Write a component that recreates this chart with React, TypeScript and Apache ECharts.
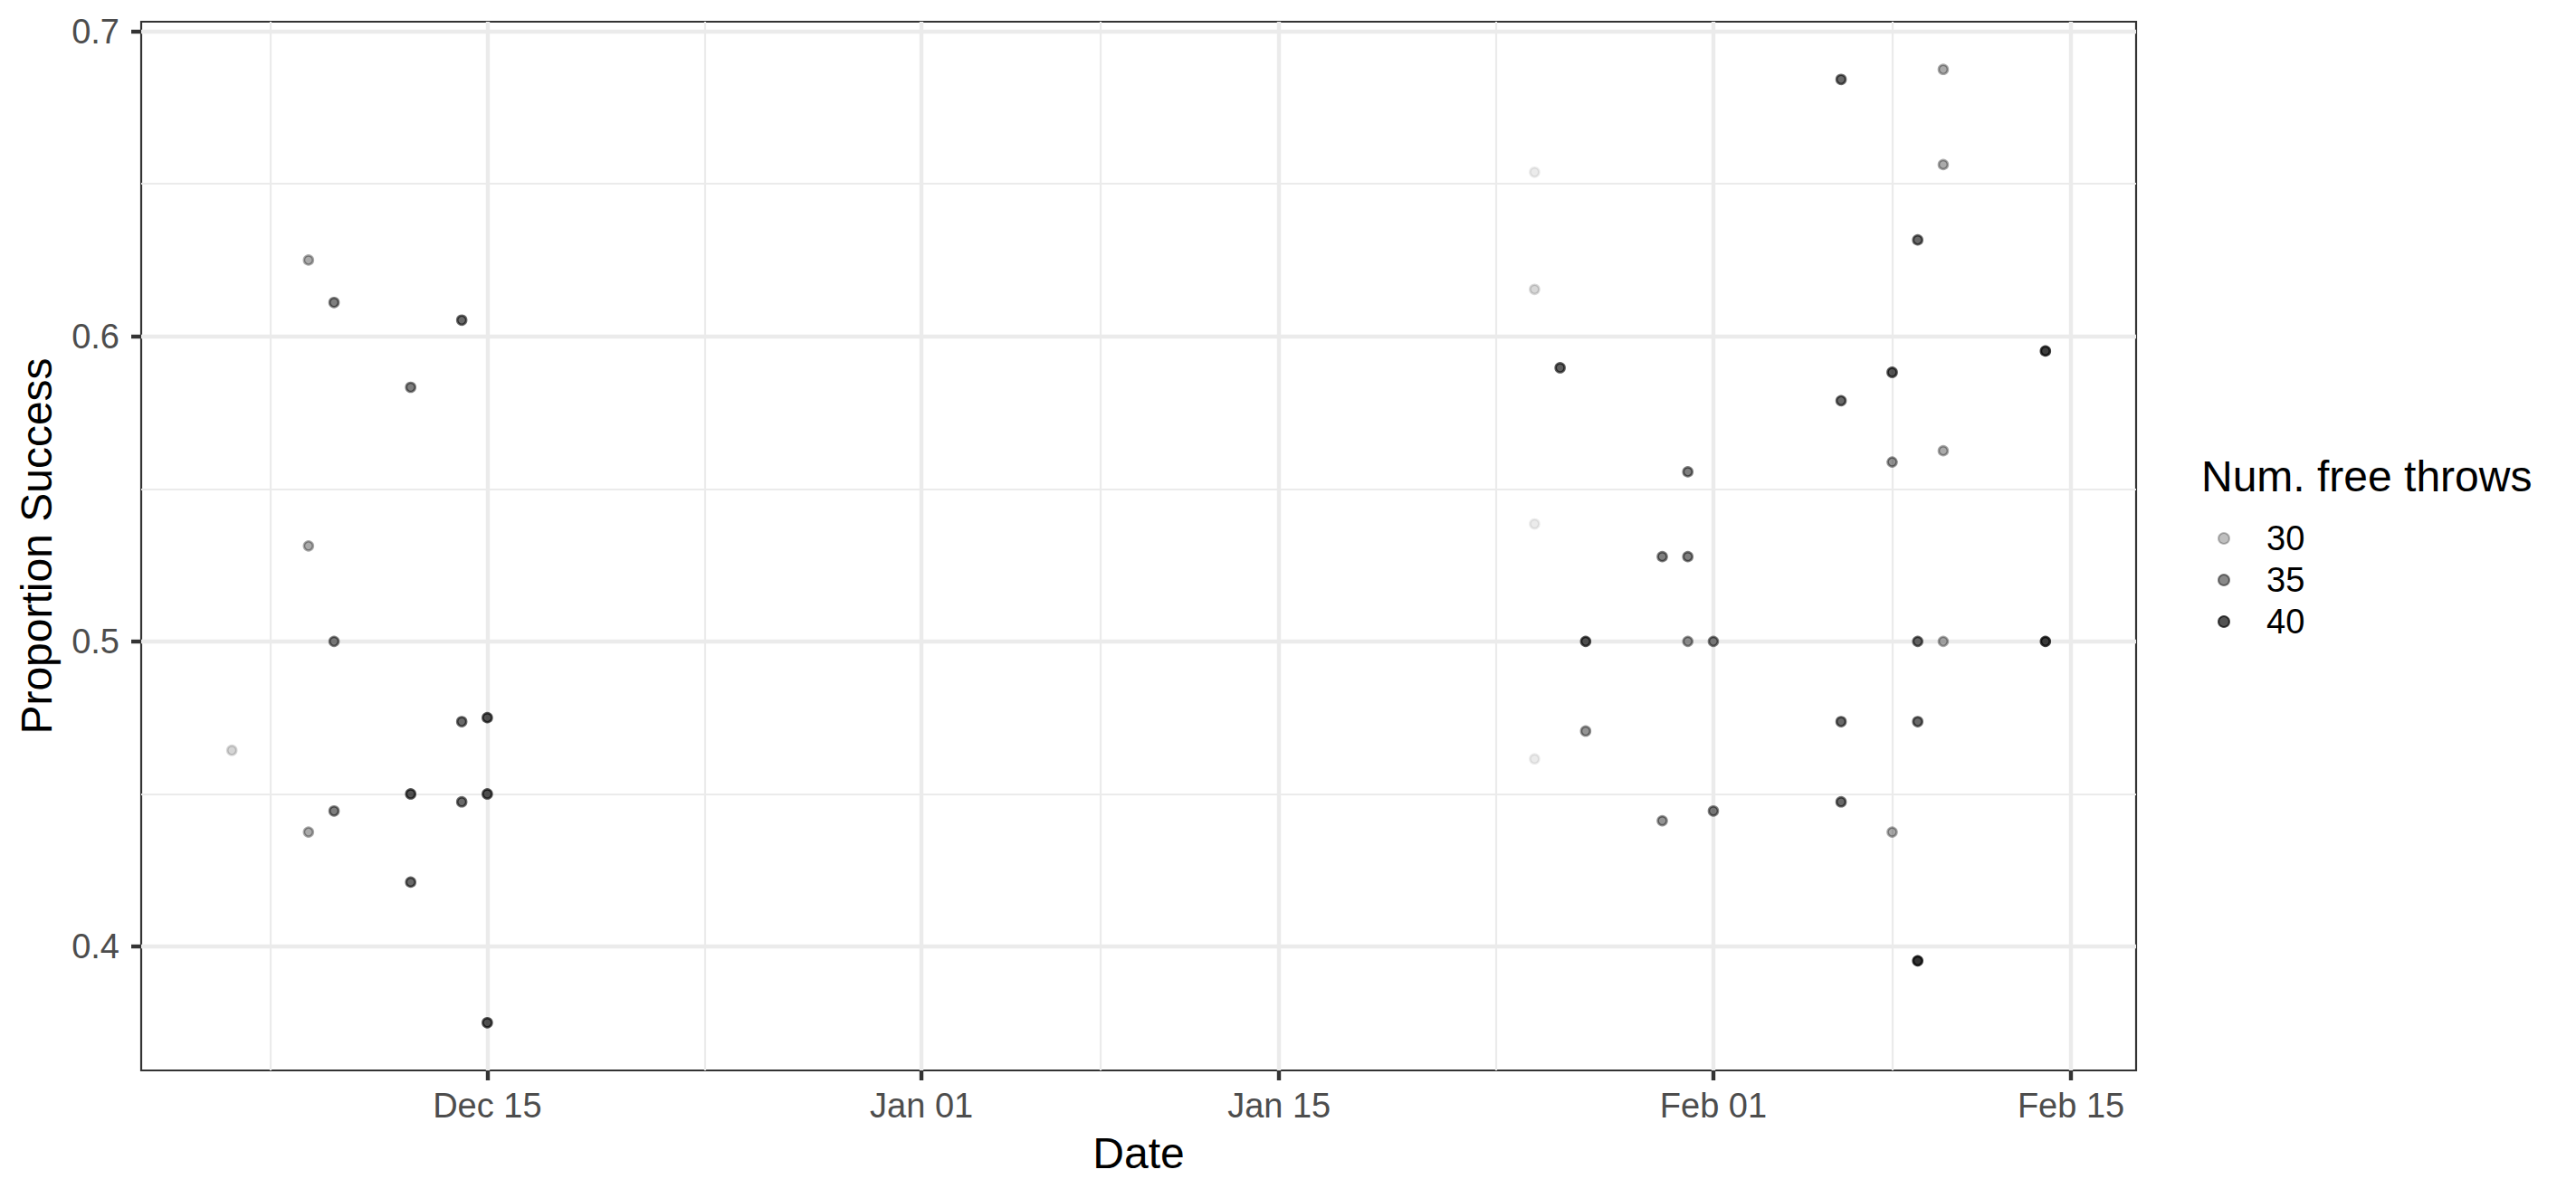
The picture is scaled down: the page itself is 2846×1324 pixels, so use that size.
import { useEffect, useRef } from "react";
import * as echarts from "echarts";

// ---- data ----
const dates = [
  "2017-12-05",
  "2017-12-08", "2017-12-08", "2017-12-08",
  "2017-12-09", "2017-12-09", "2017-12-09",
  "2017-12-12", "2017-12-12", "2017-12-12",
  "2017-12-14", "2017-12-14", "2017-12-14",
  "2017-12-15", "2017-12-15", "2017-12-15",
  "2018-01-25", "2018-01-25", "2018-01-25", "2018-01-25", "2018-01-25",
  "2018-01-26",
  "2018-01-27", "2018-01-27",
  "2018-01-30", "2018-01-30",
  "2018-01-31", "2018-01-31", "2018-01-31",
  "2018-02-01", "2018-02-01",
  "2018-02-06", "2018-02-06", "2018-02-06", "2018-02-06",
  "2018-02-08", "2018-02-08", "2018-02-08", "2018-02-08",
  "2018-02-09", "2018-02-09", "2018-02-09", "2018-02-09",
  "2018-02-10", "2018-02-10", "2018-02-10", "2018-02-10",
  "2018-02-14", "2018-02-14",
];
const proportion = [
  0.4643,
  0.625, 0.5313, 0.4375,
  0.6111, 0.5, 0.4444,
  0.5833, 0.45, 0.4211,
  0.6053, 0.4737, 0.4474,
  0.475, 0.45, 0.375,
  0.6538, 0.6154, 0.6154, 0.5385, 0.4615,
  0.5897,
  0.5, 0.4706,
  0.5278, 0.4412,
  0.5556, 0.5278, 0.5,
  0.5, 0.4444,
  0.6842, 0.5789, 0.4737, 0.4474,
  0.5882, 0.5882, 0.5588, 0.4375,
  0.6316, 0.5, 0.4737, 0.3953,
  0.6875, 0.6563, 0.5625, 0.5,
  0.5952, 0.5,
];
const attempts = [
  28,
  32, 32, 32,
  36, 36, 36,
  36, 40, 38,
  38, 38, 38,
  40, 40, 40,
  26, 26, 26, 26, 26,
  39,
  40, 34,
  36, 34,
  36, 36, 34,
  36, 36,
  38, 38, 38, 38,
  34, 34, 34, 32,
  38, 38, 38, 43,
  32, 32, 32, 32,
  42, 42,
];

const xBreaks = ["2017-12-15", "2018-01-01", "2018-01-15", "2018-02-01", "2018-02-15"];
const xBreakLabels = ["Dec 15", "Jan 01", "Jan 15", "Feb 01", "Feb 15"];
const xMinorBreaks = ["2017-12-06T12:00:00", "2017-12-23T12:00:00", "2018-01-08T00:00:00", "2018-01-23T12:00:00", "2018-02-08T00:00:00"];
const yBreaks = [0.4, 0.5, 0.6, 0.7];
const yBreakLabels = ["0.4", "0.5", "0.6", "0.7"];
const yMinorBreaks = [0.45, 0.55, 0.65];
const legendBreaks = [30, 35, 40];
const legendTitle = "Num. free throws";
const xTitle = "Date";
const yTitle = "Proportion Success";

const FONT = "'Liberation Sans', Arial, Helvetica, sans-serif";
const TICK_FS = 38;
const TITLE_FS = 48;

const toMs = (d: string) => Date.parse(d.length === 10 ? d + "T00:00:00Z" : d + "Z");

export default function App() {
  const ref = useRef<HTMLDivElement>(null);

  useEffect(() => {
    document.body.style.margin = "0";
    if (!ref.current) return;
    const chart = echarts.init(ref.current, null, { renderer: "svg" });

    const xs = dates.map(toMs);
    const xLo = Math.min(...xs);
    const xHi = Math.max(...xs);
    const xPad = (xHi - xLo) * 0.05;
    const yLo = Math.min(...proportion);
    const yHi = Math.max(...proportion);
    const yPad = (yHi - yLo) * 0.05;
    const nLo = Math.min(...attempts);
    const nHi = Math.max(...attempts);
    const alphaOf = (n: number) => 0.1 + (0.9 * (n - nLo)) / (nHi - nLo);
    const rgba = (n: number) => `rgba(0,0,0,${alphaOf(n).toFixed(3)})`;

    const xBreakMs = xBreaks.map(toMs);
    const gridColor = "#ebebeb";
    const gridLines = [
      ...xMinorBreaks.map((d) => ({ xAxis: toMs(d), lineStyle: { width: 2.2, color: gridColor, type: "solid" } })),
      ...yMinorBreaks.map((v) => ({ yAxis: v, lineStyle: { width: 2.2, color: gridColor, type: "solid" } })),
      ...xBreakMs.map((v) => ({ xAxis: v, lineStyle: { width: 4.4, color: gridColor, type: "solid" } })),
      ...yBreaks.map((v) => ({ yAxis: v, lineStyle: { width: 4.4, color: gridColor, type: "solid" } })),
    ];

    const points = xs.map((x, i) => ({
      value: [x, proportion[i], attempts[i]],
      itemStyle: { color: rgba(attempts[i]), borderColor: rgba(attempts[i]), borderWidth: 2.6 },
    }));

    const option: any = {
      animation: false,
      backgroundColor: "#ffffff",
      textStyle: { fontFamily: FONT },
      title: {
        text: legendTitle,
        left: 2432,
        top: 502,
        padding: 0,
        textStyle: { fontSize: TITLE_FS, fontWeight: "normal", color: "#000000", fontFamily: FONT },
      },
      legend: {
        orient: "vertical",
        left: 2450,
        top: 576,
        padding: 0,
        itemWidth: 12,
        itemHeight: 12,
        itemGap: 8,
        icon: "circle",
        data: legendBreaks.map(String),
        textStyle: { fontSize: TICK_FS, color: "#000000", fontFamily: FONT, padding: [0, 0, 0, 36] },
        selectedMode: false,
      },
      grid: {
        left: 156,
        top: 24,
        width: 2204,
        height: 1159,
        show: true,
        borderColor: "#333333",
        borderWidth: 2.2,
        backgroundColor: "transparent",
        containLabel: false,
      },
      xAxis: {
        type: "value",
        min: xLo - xPad,
        max: xHi + xPad,
        axisLine: { show: false },
        splitLine: { show: false },
        minorSplitLine: { show: false },
        axisTick: {
          show: true,
          customValues: xBreakMs,
          length: 11,
          lineStyle: { color: "#333333", width: 4.4 },
        },
        axisLabel: {
          customValues: xBreakMs,
          formatter: (v: number) => {
            const k = xBreakMs.findIndex((b) => Math.abs(b - v) < 1000);
            return k >= 0 ? xBreakLabels[k] : "";
          },
          fontSize: TICK_FS,
          color: "#4d4d4d",
          fontFamily: FONT,
          margin: 20,
          hideOverlap: false,
        },
        name: xTitle,
        nameLocation: "middle",
        nameGap: 67,
        nameTextStyle: { fontSize: TITLE_FS, color: "#000000", fontFamily: FONT },
      },
      yAxis: {
        type: "value",
        min: yLo - yPad,
        max: yHi + yPad,
        axisLine: { show: false },
        splitLine: { show: false },
        axisTick: {
          show: true,
          customValues: yBreaks,
          length: 11,
          lineStyle: { color: "#333333", width: 4.4 },
        },
        axisLabel: {
          customValues: yBreaks,
          formatter: (v: number) => {
            const k = yBreaks.findIndex((b) => Math.abs(b - v) < 1e-9);
            return k >= 0 ? yBreakLabels[k] : "";
          },
          fontSize: TICK_FS,
          color: "#4d4d4d",
          fontFamily: FONT,
          margin: 24,
          hideOverlap: false,
        },
        name: yTitle,
        nameLocation: "middle",
        nameRotate: 90,
        nameGap: 92,
        nameTextStyle: { fontSize: TITLE_FS, color: "#000000", fontFamily: FONT },
      },
      series: [
        {
          name: "grid",
          type: "scatter",
          data: [],
          z: 1,
          silent: true,
          markLine: {
            silent: true,
            z: 1,
            symbol: ["none", "none"],
            label: { show: false },
            emphasis: { disabled: true },
            animation: false,
            data: gridLines,
          },
        },
        {
          name: "points",
          type: "scatter",
          symbol: "circle",
          symbolSize: 10,
          z: 3,
          data: points,
        },
        ...legendBreaks.map((b) => ({
          name: String(b),
          type: "scatter",
          symbol: "circle",
          data: [],
          itemStyle: { color: rgba(b), borderColor: rgba(b), borderWidth: 2.6 },
        })),
      ],
    };

    chart.setOption(option);
    return () => chart.dispose();
  }, []);

  return <div ref={ref} style={{ width: 2846, height: 1324 }} />;
}
